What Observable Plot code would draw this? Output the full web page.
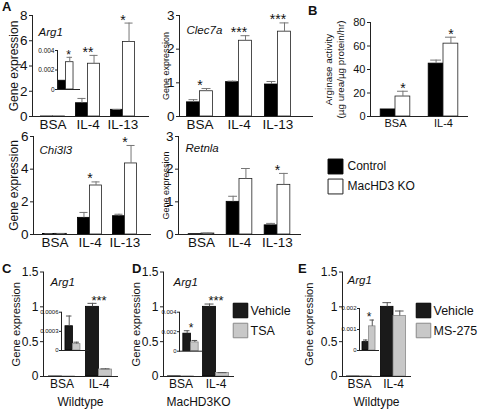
<!DOCTYPE html>
<html><head><meta charset="utf-8">
<script src="https://cdn.jsdelivr.net/npm/d3@7"></script>
<script src="https://cdn.jsdelivr.net/npm/@observablehq/plot@0.6"></script>
<style>
body{margin:0;background:#fff;}
#fig{position:relative;width:478px;height:409px;overflow:hidden;font-family:"Liberation Sans",Arial,sans-serif;color:#111;}
.pane{position:absolute;}
.pane svg{max-width:none;overflow:visible;display:block;}
.letter{position:absolute;font-weight:bold;font-size:13px;line-height:13px;}
</style></head><body><div id="fig"></div>
<script>
// ---------- data ----------
const catsA = ["BSA", "IL-4", "IL-13"];
const seriesA = ["Control", "MacHD3 KO"];

const arg1Control = [0.0009, 1.05, 0.53];
const arg1ControlSem = [0, 0.38, 0.03];
const arg1KO = [0.0028, 4.18, 5.9];
const arg1KOSem = [0.0005, 0.66, 1.5];
const arg1Stars = ["", "**", "*"];
const arg1InsetStars = ["*"];
const arg1InsetTicks = [0, 0.002, 0.004];

const clec7aControl = [0.42, 1.02, 0.95];
const clec7aControlSem = [0.08, 0.03, 0.09];
const clec7aKO = [0.75, 2.25, 2.52];
const clec7aKOSem = [0.08, 0.15, 0.26];
const clec7aStars = ["*", "***", "***"];

const chi3l3Control = [0.03, 1.02, 1.12];
const chi3l3ControlSem = [0.01, 0.33, 0.12];
const chi3l3KO = [0.04, 3.0, 4.35];
const chi3l3KOSem = [0.01, 0.22, 1.1];
const chi3l3Stars = ["", "*", "*"];

const retnlaControl = [0.01, 1.0, 0.28];
const retnlaControlSem = [0, 0.17, 0.06];
const retnlaKO = [0.03, 1.7, 1.52];
const retnlaKOSem = [0.01, 0.32, 0.35];
const retnlaStars = ["", "", "*"];

const catsB = ["BSA", "IL-4"];
const arginaseControl = [6, 45];
const arginaseControlSem = [0, 3];
const arginaseKO = [17, 62];
const arginaseKOSem = [4.5, 5.5];
const arginaseStars = ["*", "*"];

const catsCDE = ["BSA", "IL-4"];
const seriesTSA = ["Vehicle", "TSA"];
const seriesMS = ["Vehicle", "MS-275"];

const cVehicle = [0.00038, 1.0];
const cVehicleSem = [0.00016, 0.05];
const cTSA = [0.0001, 0.1];
const cTSASem = [0.00003, 0.01];
const cStars = ["", "***"];
const cInsetStars = [""];
const cInsetTicks = [0, 0.0003, 0.0006];

const dVehicle = [0.0018, 1.0];
const dVehicleSem = [0.0003, 0.04];
const dTSA = [0.0009, 0.05];
const dTSASem = [0.0002, 0.005];
const dStars = ["", "***"];
const dInsetStars = ["*"];
const dInsetTicks = [0, 0.002, 0.004];

const eVehicle = [0.0004, 1.0];
const eVehicleSem = [0.0001, 0.06];
const eMS = [0.00115, 0.87];
const eMSSem = [0.0003, 0.07];
const eStars = ["", ""];
const eInsetStars = ["*"];
const eInsetTicks = [0, 0.001, 0.002];

const geneTicks3 = [0, 1, 2, 3];
const arg1Ticks = [0, 2, 4, 6, 8];
const chi3l3Ticks = [0, 2, 4, 6];
const arginaseTicks = [0, 20, 40, 60, 80];
const cdeTicks = [0, 0.5, 1, 1.5];

// ---------- helpers ----------
const FONT = '"Liberation Sans", Arial, Helvetica, sans-serif';
const fig = document.getElementById("fig");
const AXIS = "#222";
const firstOf = arr => [arr[0]];

function place(node, left, top) {
  const d = document.createElement("div");
  d.className = "pane";
  d.style.left = left + "px";
  d.style.top = top + "px";
  d.appendChild(node);
  fig.appendChild(d);
}
function letter(t, left, top) {
  const d = document.createElement("div");
  d.className = "letter";
  d.textContent = t;
  d.style.left = left + "px";
  d.style.top = top + "px";
  fig.appendChild(d);
}

function barChart(c) {
  const dims = {
    width: c.width, height: c.height,
    marginLeft: c.m[3], marginTop: c.m[0], marginRight: c.m[1], marginBottom: c.m[2]
  };
  const style = {fontFamily: FONT, fontSize: c.fontSize + "px", background: "transparent", overflow: "visible", color: "#111"};

  // axis layer: y axis (ticks + labels) and the two axis lines
  const axisSvg = Plot.plot({...dims, style,
    y: {domain: c.yDomain, nice: false, label: null},
    marks: [
      Plot.axisY(c.yTicks, {tickFormat: d => String(d), tickSize: c.tickSize ?? 3,
        tickPadding: c.tickPad ?? 2, label: null, stroke: AXIS, fill: "#111"}),
      Plot.frame({anchor: "left", stroke: AXIS}),
      Plot.frame({anchor: "bottom", stroke: AXIS})
    ]});

  // label layer: title and rotated y label
  const textMarks = [];
  if (c.title) textMarks.push(Plot.text([c.title], {
    text: d => d, frameAnchor: "top-left", textAnchor: "start", lineAnchor: "top",
    dx: c.titleDx, dy: c.titleDy, fontStyle: "italic", fontSize: c.titleSize ?? 11.5
  }));
  if (c.ylabel) textMarks.push(Plot.text([c.ylabel], {
    text: d => d, frameAnchor: "left", textAnchor: "middle", rotate: -90, dx: c.ylabelDx,
    fontSize: c.ylabelSize, lineAnchor: "middle", lineHeight: c.ylabelLineHeight ?? 1.15
  }));
  const textSvg = textMarks.length ? Plot.plot({...dims, style, marks: textMarks}) : null;

  // bars layer: grouped bars faceted by category
  const rows = [];
  c.cats.forEach((cat, i) => c.series.forEach((s, j) => {
    const v = c.values[j][i], e = c.errors[j][i];
    rows.push({cat, series: s, value: v, hi: v + e, err: e});
  }));
  const errRows = rows.filter(r => r.err > 0);
  const starRows = [];
  (c.stars || []).forEach((st, i) => {
    if (!st) return;
    const g = rows.filter(r => r.cat === c.cats[i] && (!c.starOn || r.series === c.starOn));
    starRows.push({cat: c.cats[i], series: c.starOn, star: st, y: d3.max(g, r => r.hi)});
  });
  const marks = [];
  c.series.forEach((s, j) => marks.push(Plot.barY(rows.filter(r => r.series === s), {
    fx: "cat", x: "series", y: "value", fill: c.fills[j], stroke: c.strokes[j], strokeWidth: c.barStrokeWidth ?? 0.8
  })));
  marks.push(Plot.ruleX(errRows, {fx: "cat", x: "series", y1: "value", y2: "hi", stroke: c.errColor ?? "#777", strokeWidth: c.errWidth ?? 1}));
  marks.push(Plot.tickY(errRows, {fx: "cat", x: "series", y: "hi", stroke: c.errColor ?? "#777", strokeWidth: c.errWidth ?? 1, insetLeft: c.capInset ?? 2, insetRight: c.capInset ?? 2}));
  const starOpts = {fx: "cat", y: "y", text: "star", fontSize: c.starSize ?? 14, lineAnchor: "middle", dy: c.starDy ?? -3};
  if (c.starOn) starOpts.x = "series";
  marks.push(Plot.text(starRows, starOpts));
  const fx = c.catAxis === false
    ? {domain: c.cats, axis: null, paddingInner: 0, paddingOuter: 0}
    : {domain: c.cats, paddingInner: 0, paddingOuter: c.fxPad ?? 0, align: c.fxAlign ?? 0.5,
       tickSize: 0, tickPadding: c.catPad ?? 3, label: c.fxLabel ?? null,
       labelAnchor: "center", labelOffset: c.fxLabelOffset ?? 30};
  const barsSvg = Plot.plot({
    ...dims, style, fx,
    x: {domain: c.series, paddingInner: 0, paddingOuter: c.xPad, align: c.xAlign ?? 0.5, axis: null, round: false},
    y: {domain: c.yDomain, nice: false, axis: null},
    marks
  });
  place(barsSvg, c.left, c.top);
  place(axisSvg, c.left, c.top);
  if (textSvg) place(textSvg, c.left, c.top);
}

function legend(c) {
  const marks = [];
  c.labels.forEach((label, i) => {
    marks.push(Plot.dot([label], {y: d => d, frameAnchor: "left", symbol: "square", r: c.r, fill: c.fills[i], stroke: c.strokes[i], strokeWidth: 1}));
  });
  marks.push(Plot.text(c.labels, {y: d => d, text: d => d, frameAnchor: "left", textAnchor: "start", dx: c.textDx, fontSize: c.fontSize}));
  const svg = Plot.plot({
    width: c.width, height: c.height,
    marginLeft: c.m[3], marginTop: c.m[0], marginRight: c.m[1], marginBottom: c.m[2],
    style: {fontFamily: FONT, background: "transparent", overflow: "visible", color: "#111"},
    y: {type: "point", domain: c.labels, axis: null, padding: 0},
    marks
  });
  place(svg, c.left, c.top);
}

// ---------- panel A ----------
const fillsA = ["#000", "#fff"], strokesA = ["#000", "#222"];
barChart({left: 0, top: 0, width: 150, height: 140, m: [15, 2, 24, 32],
  cats: catsA, series: seriesA, values: [arg1Control, arg1KO], errors: [arg1ControlSem, arg1KOSem],
  yDomain: [0, 8], yTicks: arg1Ticks, fills: fillsA, strokes: strokesA, xPad: 0.45, fxPad: 0.15, fxAlign: 0.3,
  stars: arg1Stars, fontSize: 13.5, title: "Arg1", titleDx: 6, titleDy: 12,
  ylabel: "Gene expression", ylabelSize: 12, ylabelDx: -19});
barChart({left: 30, top: 40, width: 52, height: 55, m: [10, 3, 6, 27],
  cats: firstOf(catsA), series: seriesA, values: [firstOf(arg1Control), firstOf(arg1KO)],
  errors: [firstOf(arg1ControlSem), firstOf(arg1KOSem)], yDomain: [0, 0.004], yTicks: arg1InsetTicks,
  fills: fillsA, strokes: strokesA, xPad: 0.47, xAlign: 0.15, catAxis: false, fontSize: 6.5,
  tickSize: 2, tickPad: 1, stars: arg1InsetStars, starSize: 12, starDy: -2, capInset: 1});

barChart({left: 160, top: 0, width: 160, height: 140, m: [15, 8, 24, 19],
  cats: catsA, series: seriesA, values: [clec7aControl, clec7aKO], errors: [clec7aControlSem, clec7aKOSem],
  yDomain: [0, 3], yTicks: geneTicks3, fills: fillsA, strokes: strokesA, xPad: 0.5, fxPad: 0.205, fxAlign: 0.09,
  stars: clec7aStars, fontSize: 13.5, title: "Clec7a", titleDx: 7, titleDy: 10,
  ylabel: "Gene expression", ylabelSize: 9, ylabelDx: -14});

barChart({left: 0, top: 130, width: 152, height: 125, m: [6, 2, 21, 33],
  cats: catsA, series: seriesA, values: [chi3l3Control, chi3l3KO], errors: [chi3l3ControlSem, chi3l3KOSem],
  yDomain: [0, 6], yTicks: chi3l3Ticks, fills: fillsA, strokes: strokesA, xPad: 0.45, fxPad: 0.15, fxAlign: 0.3,
  stars: chi3l3Stars, fontSize: 13.5, title: "Chi3l3", titleDx: 6, titleDy: 9,
  ylabel: "Gene expression", ylabelSize: 12, ylabelDx: -20});

barChart({left: 160, top: 130, width: 150, height: 125, m: [6, 10, 21, 18],
  cats: catsA, series: seriesA, values: [retnlaControl, retnlaKO], errors: [retnlaControlSem, retnlaKOSem],
  yDomain: [0, 3], yTicks: geneTicks3, fills: fillsA, strokes: strokesA, xPad: 0.48, fxPad: 0.08, fxAlign: 0.45,
  stars: retnlaStars, fontSize: 13.5, title: "Retnla", titleDx: 7, titleDy: 7,
  ylabel: "Gene expression", ylabelSize: 9, ylabelDx: -13});

// ---------- panel B ----------
barChart({left: 320, top: 0, width: 158, height: 140, m: [22, 11, 24, 50],
  cats: catsB, series: seriesA, values: [arginaseControl, arginaseKO], errors: [arginaseControlSem, arginaseKOSem],
  yDomain: [0, 80], yTicks: arginaseTicks, fills: fillsA, strokes: strokesA, xPad: 0.62, fxPad: 0,
  stars: arginaseStars, starOn: "MacHD3 KO", fontSize: 11,
  ylabel: "Arginase activity\n(\u00b5g urea/\u00b5g protein/hr)", ylabelSize: 9.8, ylabelDx: -36});

legend({left: 320, top: 150, width: 158, height: 50, m: [15.5, 0, 14.5, 15],
  labels: seriesA, fills: fillsA, strokes: strokesA, r: 8.4, textDx: 12, fontSize: 12});

// ---------- panels C, D, E ----------
const fillsT = ["#1a1a1a", "#c8c8c8"], strokesT = ["#000", "#8a8a8a"];
barChart({left: 0, top: 255, width: 130, height: 154, m: [16.5, 13, 33, 43],
  cats: catsCDE, series: seriesTSA, values: [cVehicle, cTSA], errors: [cVehicleSem, cTSASem],
  yDomain: [0, 1.5], yTicks: cdeTicks, fills: fillsT, strokes: strokesT, xPad: 0.42, fxPad: 0,
  stars: cStars, fontSize: 12, fxLabel: "Wildtype", fxLabelOffset: 29, title: "Arg1", titleDx: 7, titleDy: 6,
  ylabel: "Gene expression", ylabelSize: 11.2, ylabelDx: -28, errColor: "#555", starSize: 13});
barChart({left: 30, top: 300, width: 60, height: 55, m: [11.7, 2, 5, 31],
  cats: firstOf(catsCDE), series: seriesTSA, values: [firstOf(cVehicle), firstOf(cTSA)],
  errors: [firstOf(cVehicleSem), firstOf(cTSASem)], yDomain: [0, 0.0006], yTicks: cInsetTicks,
  fills: fillsT, strokes: strokesT, xPad: 0.8, xAlign: 0.33, catAxis: false, fontSize: 6,
  tickSize: 2, tickPad: 1, stars: cInsetStars, errColor: "#555", capInset: 1});

barChart({left: 130, top: 255, width: 110, height: 154, m: [16.5, 7, 33, 33],
  cats: catsCDE, series: seriesTSA, values: [dVehicle, dTSA], errors: [dVehicleSem, dTSASem],
  yDomain: [0, 1.5], yTicks: cdeTicks, fills: fillsT, strokes: strokesT, xPad: 0.35, fxPad: 0,
  stars: dStars, fontSize: 12, fxLabel: "MacHD3KO", fxLabelOffset: 29, title: "Arg1", titleDx: 10, titleDy: 6,
  ylabel: "Gene expression", ylabelSize: 11.2, ylabelDx: -28, errColor: "#555", starSize: 13});
barChart({left: 150, top: 300, width: 54, height: 56, m: [11.7, 2, 5.3, 29],
  cats: firstOf(catsCDE), series: seriesTSA, values: [firstOf(dVehicle), firstOf(dTSA)],
  errors: [firstOf(dVehicleSem), firstOf(dTSASem)], yDomain: [0, 0.004], yTicks: dInsetTicks,
  fills: fillsT, strokes: strokesT, xPad: 0.5, xAlign: 0.5, catAxis: false, fontSize: 6,
  tickSize: 2, tickPad: 1, stars: dInsetStars, starSize: 12, starDy: -3, errColor: "#555", capInset: 1});
legend({left: 225, top: 299.5, width: 80, height: 40, m: [10, 0, 10, 15],
  labels: seriesTSA, fills: fillsT, strokes: strokesT, r: 8.2, textDx: 10, fontSize: 12.5});

barChart({left: 310, top: 255, width: 105, height: 154, m: [16.5, 5, 33, 32],
  cats: catsCDE, series: seriesMS, values: [eVehicle, eMS], errors: [eVehicleSem, eMSSem],
  yDomain: [0, 1.5], yTicks: cdeTicks, fills: fillsT, strokes: strokesT, xPad: 0.35, fxPad: 0,
  stars: eStars, fontSize: 12, fxLabel: "Wildtype", fxLabelOffset: 29, title: "Arg1", titleDx: 5, titleDy: 4,
  ylabel: "Gene expression", ylabelSize: 11, ylabelDx: -34, errColor: "#555"});
barChart({left: 330, top: 295, width: 50, height: 60, m: [13, 2, 5, 29],
  cats: firstOf(catsCDE), series: seriesMS, values: [firstOf(eVehicle), firstOf(eMS)],
  errors: [firstOf(eVehicleSem), firstOf(eMSSem)], yDomain: [0, 0.002], yTicks: eInsetTicks,
  fills: fillsT, strokes: strokesT, xPad: 0.46, xAlign: 0.5, catAxis: false, fontSize: 6,
  tickSize: 2, tickPad: 1, stars: eInsetStars, starSize: 12, starDy: -3, errColor: "#555", capInset: 1});
legend({left: 408, top: 299.5, width: 70, height: 40, m: [10, 0, 10, 15],
  labels: seriesMS, fills: fillsT, strokes: strokesT, r: 8.2, textDx: 10, fontSize: 12.5});

// ---------- panel letters ----------
letter("A", 2, 0);
letter("B", 308, 4);
letter("C", 2, 262);
letter("D", 132, 262);
letter("E", 298, 262);
</script></body></html>
